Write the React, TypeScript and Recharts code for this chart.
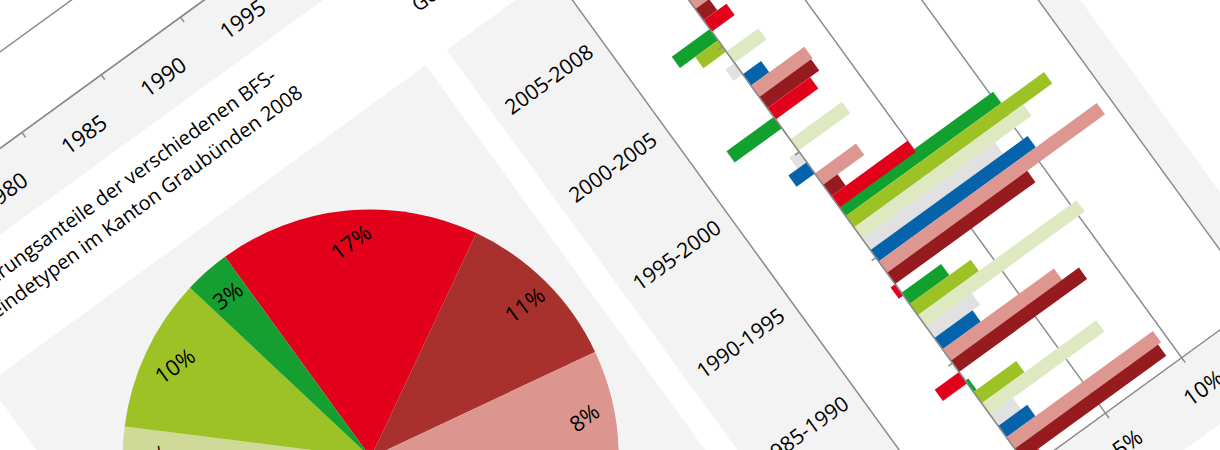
import React from 'react';
import {
  BarChart,
  Bar,
  XAxis,
  YAxis,
  CartesianGrid,
  ReferenceLine,
  PieChart,
  Pie,
  Cell,
  LineChart,
  Line
} from 'recharts';

const FONT = '"Open Sans", "DejaVu Sans", sans-serif';
const GRID = '#8c8c8c';
const PANEL = '#f3f3f3';

// Bevölkerung Kanton Graubünden (Linie)
const years = ['1980', '1985', '1990', '1995', '2000', '2005'];
const population = [164641, 167600, 173890, 181400, 187058, 188800];

// Bevölkerungsanteile 2008 (Kuchen, im Uhrzeigersinn ab 12 Uhr)
const pieTypes = [
  'Zentren',
  'Suburbane Gemeinden',
  'Periurbane Gemeinden',
  'Touristische Gemeinden',
  'Industrielle und tertiäre Gemeinden',
  'Zupendlergemeinden',
  'Gemischte agrarische Gemeinden',
  'Agrarische Gemeinden'
];
const shares2008 = [17, 11, 8, 30, 17, 4, 10, 3];
const pieColors = ['#e2001a', '#a8302d', '#dc968f', '#0563ac', '#dadada', '#cfda99', '#9dc226', '#149f30'];

// Bevölkerungswachstum je Periode in % (Balken)
const periods = ['2005-2008', '2000-2005', '1995-2000', '1990-1995', '1985-1990', '1980-1985'];
const agrar = [-1.2, -2.5, -3.1, 10.2, 2.6, 0.2];
const agrarGemischt = [-0.8, -1.5, 0, 13.0, 4.0, 2.8];
const zupendler = [1.0, 2.1, 3.4, 11.1, 10.4, 7.5];
const industrie = [-0.4, -0.6, -0.6, 8.7, 3.0, 1.5];
const tourismus = [0.6, 1.2, -1.2, 10.3, 2.5, 1.9];
const periurban = [1.8, 3.5, 2.7, 14.3, 7.3, 9.6];
const suburban = [0.9, 3.4, 0.95, 9.2, 8.4, 9.4];
const zentren = [1.5, 2.8, 5.0, -0.3, -1.6, 1.0];

const barSeries = [
  { key: 'agrar', color: '#12a02f', values: agrar },
  { key: 'agrarGemischt', color: '#9dc226', values: agrarGemischt },
  { key: 'zupendler', color: '#dfe9c1', values: zupendler },
  { key: 'industrie', color: '#e1e1e1', values: industrie },
  { key: 'tourismus', color: '#0563ac', values: tourismus },
  { key: 'periurban', color: '#dd9690', values: periurban },
  { key: 'suburban', color: '#961b1f', values: suburban },
  { key: 'zentren', color: '#e3001b', values: zentren }
];

const lineData = years.map((year, i) => ({ i, year, pop: population[i] }));
const pieData = pieTypes.map((name, i) => ({ name, value: shares2008[i] }));
const barData = periods.map((period, i) => {
  const row: Record<string, number | string> = { period };
  barSeries.forEach((s) => {
    row[s.key] = s.values[i];
  });
  return row;
});

const RAD = Math.PI / 180;

function PieLabel(props: any) {
  const { cx, cy, midAngle, outerRadius, value } = props;
  const r = outerRadius * 0.875;
  const x = cx + r * Math.cos(-midAngle * RAD);
  const y = cy + r * Math.sin(-midAngle * RAD);
  return (
    <text x={x} y={y} textAnchor="middle" dominantBaseline="central" fill="#000" fontSize={22} fontFamily={FONT}>
      {`${value}%`}
    </text>
  );
}

function PeriodTick(props: any) {
  const { y, payload } = props;
  return (
    <text x={65.5} y={y} textAnchor="middle" dominantBaseline="central" fill="#000" fontSize={21} fontFamily={FONT}>
      {payload.value}
    </text>
  );
}

function PercentTick(props: any) {
  const { x, y, payload } = props;
  return (
    <text x={x} y={y} dy={30} textAnchor="middle" dominantBaseline="central" fill="#000" fontSize={22} fontFamily={FONT}>
      {`${payload.value}%`}
    </text>
  );
}

function YearTick(props: any) {
  const { x, y, payload } = props;
  return (
    <text x={x} y={y} dy={37} textAnchor="middle" dominantBaseline="central" fill="#000" fontSize={22} fontFamily={FONT}>
      {years[payload.value]}
    </text>
  );
}

const titleStyle: React.CSSProperties = {
  position: 'absolute',
  top: 205,
  fontFamily: FONT,
  fontSize: 20,
  lineHeight: '29px',
  color: '#000',
  whiteSpace: 'nowrap'
};

const yearBoundaries = [-0.5, 0.5, 1.5, 2.5, 3.5, 4.5, 5.5];
const categoryBoundaries = [0, 1, 2, 3, 4, 5, 6];

export default function App() {
  return (
    <div style={{ position: 'fixed', left: 0, top: 0, width: 1220, height: 450, overflow: 'hidden', background: '#fff' }}>
      <div style={{ position: 'absolute', left: 0, top: 0, width: 0, height: 0, transform: 'rotate(-36deg)', transformOrigin: '0 0' }}>
        {/* Linienchart */}
        <div style={{ position: 'absolute', left: -235, top: -400, width: 700, height: 590, background: PANEL }}>
          <LineChart width={700} height={590} data={lineData} margin={{ top: 52, right: 35, bottom: 0, left: 0 }}>
            <CartesianGrid vertical={false} stroke={GRID} strokeWidth={1.5} fill="#fff" />
            <XAxis
              dataKey="i"
              type="number"
              domain={[-0.5, 5.5]}
              ticks={[0, 1, 2, 3, 4, 5]}
              height={70}
              tickLine={false}
              tickSize={0}
              tickMargin={0}
              axisLine={{ stroke: GRID, strokeWidth: 1.5 }}
              tick={<YearTick />}
            />
            <YAxis
              type="number"
              domain={[140000, 200000]}
              ticks={[140000, 150000, 160000, 170000, 180000, 190000, 200000]}
              width={77}
              axisLine={false}
              tickLine={false}
              tick={{ fontSize: 16, fill: '#000', fontFamily: FONT }}
            />
            {yearBoundaries.map((b) => (
              <ReferenceLine
                key={`yt-${b}`}
                ifOverflow="visible"
                segment={[{ x: b, y: 140000 }, { x: b, y: 139230 }]}
                stroke={GRID}
                strokeWidth={1.5}
              />
            ))}
            <Line dataKey="pop" stroke="#e3001b" strokeWidth={3} dot={false} isAnimationActive={false} />
          </LineChart>
        </div>

        {/* Kuchen */}
        <div style={{ ...titleStyle, left: -235 }}>
          Bevölkerungsanteile der verschiedenen BFS-
          <br />
          Gemeindetypen im Kanton Graubünden 2008
        </div>
        <div style={{ position: 'absolute', left: -235, top: 303, width: 541, height: 600, background: PANEL }}>
          <PieChart width={541} height={600}>
            <Pie
              data={pieData}
              dataKey="value"
              nameKey="name"
              cx={261}
              cy={280}
              outerRadius={248}
              startAngle={90}
              endAngle={-270}
              stroke="none"
              labelLine={false}
              label={PieLabel}
              isAnimationActive={false}
            >
              {pieData.map((entry, index) => (
                <Cell key={`cell-${index}`} fill={pieColors[index]} />
              ))}
            </Pie>
          </PieChart>
        </div>

        {/* Balken */}
        <div style={{ ...titleStyle, left: 331 }}>
          Bevölkerungsentwicklung der verschiedenen BFS-
          <br />
          Gemeindetypen im Kanton Graubünden 1980-2008
        </div>
        <div style={{ position: 'absolute', left: 332, top: 303, width: 542, height: 757, background: PANEL }}>
          <BarChart
            width={542}
            height={757}
            data={barData}
            layout="vertical"
            margin={{ top: 29, right: 34, bottom: 36, left: 0 }}
            barCategoryGap={0}
            barGap={0}
          >
            <CartesianGrid horizontal={false} stroke={GRID} strokeWidth={1.5} fill="#fff" />
            <XAxis
              type="number"
              domain={[-5, 15]}
              ticks={[-5, 0, 5, 10, 15]}
              height={40}
              tickSize={6}
              tickMargin={0}
              tickLine={{ stroke: GRID, strokeWidth: 1.5 }}
              axisLine={{ stroke: GRID, strokeWidth: 1.5 }}
              tick={<PercentTick />}
            />
            <YAxis
              type="category"
              dataKey="period"
              width={131}
              axisLine={false}
              tickLine={false}
              tick={<PeriodTick />}
            />
            <YAxis yAxisId="n" type="number" domain={[0, 6]} hide />
            {barSeries.map((s) => (
              <Bar key={s.key} dataKey={s.key} fill={s.color} isAnimationActive={false} />
            ))}
            <ReferenceLine x={0} stroke={GRID} strokeWidth={1.5} />
            {categoryBoundaries.map((b) => (
              <ReferenceLine
                key={`ct-${b}`}
                yAxisId="n"
                segment={[{ x: -0.28, y: b }, { x: 0, y: b }]}
                stroke={GRID}
                strokeWidth={1.5}
              />
            ))}
          </BarChart>
        </div>
      </div>
    </div>
  );
}
